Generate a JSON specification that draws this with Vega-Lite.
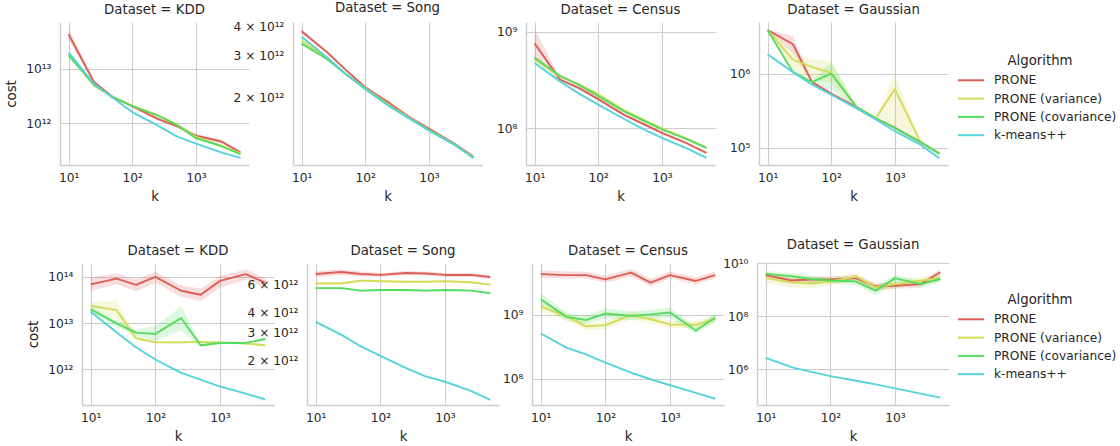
{
"$schema": "https://vega.github.io/schema/vega-lite/v6.json",
"background": "white",
"padding": {"left": 4, "top": 0, "right": 0, "bottom": 0},
"datasets": {"d": [
{"row":1,"Dataset":"KDD","Algorithm":"PRONE","k":10,"cost":4.3e13,"lo":3.4e13,"hi":5.5e13},
{"row":1,"Dataset":"KDD","Algorithm":"PRONE","k":25,"cost":5.7e12,"lo":5.3e12,"hi":6.1e12},
{"row":1,"Dataset":"KDD","Algorithm":"PRONE","k":50,"cost":3.0e12,"lo":2.9e12,"hi":3.1e12},
{"row":1,"Dataset":"KDD","Algorithm":"PRONE","k":100,"cost":2.05e12,"lo":1.97e12,"hi":2.13e12},
{"row":1,"Dataset":"KDD","Algorithm":"PRONE","k":250,"cost":1.2e12,"lo":1.13e12,"hi":1.27e12},
{"row":1,"Dataset":"KDD","Algorithm":"PRONE","k":500,"cost":8.8e11,"lo":8.3e11,"hi":9.3e11},
{"row":1,"Dataset":"KDD","Algorithm":"PRONE","k":1000,"cost":5.9e11,"lo":5.5e11,"hi":6.4e11},
{"row":1,"Dataset":"KDD","Algorithm":"PRONE","k":2500,"cost":4.6e11,"lo":4.2e11,"hi":5.0e11},
{"row":1,"Dataset":"KDD","Algorithm":"PRONE","k":5000,"cost":2.9e11,"lo":2.75e11,"hi":3.05e11},
{"row":1,"Dataset":"KDD","Algorithm":"PRONE (variance)","k":10,"cost":1.85e13,"lo":1.78e13,"hi":1.92e13},
{"row":1,"Dataset":"KDD","Algorithm":"PRONE (variance)","k":25,"cost":4.9e12,"lo":4.7e12,"hi":5.1e12},
{"row":1,"Dataset":"KDD","Algorithm":"PRONE (variance)","k":50,"cost":3.0e12,"lo":2.92e12,"hi":3.08e12},
{"row":1,"Dataset":"KDD","Algorithm":"PRONE (variance)","k":100,"cost":2.1e12,"lo":2.03e12,"hi":2.17e12},
{"row":1,"Dataset":"KDD","Algorithm":"PRONE (variance)","k":250,"cost":1.4e12,"lo":1.34e12,"hi":1.46e12},
{"row":1,"Dataset":"KDD","Algorithm":"PRONE (variance)","k":500,"cost":9.5e11,"lo":9.1e11,"hi":9.9e11},
{"row":1,"Dataset":"KDD","Algorithm":"PRONE (variance)","k":1000,"cost":5.6e11,"lo":5.35e11,"hi":5.85e11},
{"row":1,"Dataset":"KDD","Algorithm":"PRONE (variance)","k":2500,"cost":3.8e11,"lo":3.65e11,"hi":3.95e11},
{"row":1,"Dataset":"KDD","Algorithm":"PRONE (variance)","k":5000,"cost":2.8e11,"lo":2.72e11,"hi":2.88e11},
{"row":1,"Dataset":"KDD","Algorithm":"PRONE (covariance)","k":10,"cost":1.77e13,"lo":1.72e13,"hi":1.82e13},
{"row":1,"Dataset":"KDD","Algorithm":"PRONE (covariance)","k":25,"cost":5.1e12,"lo":4.95e12,"hi":5.25e12},
{"row":1,"Dataset":"KDD","Algorithm":"PRONE (covariance)","k":50,"cost":3.0e12,"lo":2.93e12,"hi":3.07e12},
{"row":1,"Dataset":"KDD","Algorithm":"PRONE (covariance)","k":100,"cost":2.05e12,"lo":2.0e12,"hi":2.1e12},
{"row":1,"Dataset":"KDD","Algorithm":"PRONE (covariance)","k":250,"cost":1.38e12,"lo":1.34e12,"hi":1.42e12},
{"row":1,"Dataset":"KDD","Algorithm":"PRONE (covariance)","k":500,"cost":9.3e11,"lo":9.0e11,"hi":9.6e11},
{"row":1,"Dataset":"KDD","Algorithm":"PRONE (covariance)","k":1000,"cost":5.3e11,"lo":5.15e11,"hi":5.45e11},
{"row":1,"Dataset":"KDD","Algorithm":"PRONE (covariance)","k":2500,"cost":3.8e11,"lo":3.7e11,"hi":3.9e11},
{"row":1,"Dataset":"KDD","Algorithm":"PRONE (covariance)","k":5000,"cost":2.7e11,"lo":2.64e11,"hi":2.76e11},
{"row":1,"Dataset":"KDD","Algorithm":"k-means++","k":10,"cost":2.0e13,"lo":1.97e13,"hi":2.03e13},
{"row":1,"Dataset":"KDD","Algorithm":"k-means++","k":25,"cost":5.3e12,"lo":5.25e12,"hi":5.35e12},
{"row":1,"Dataset":"KDD","Algorithm":"k-means++","k":50,"cost":2.9e12,"lo":2.87e12,"hi":2.93e12},
{"row":1,"Dataset":"KDD","Algorithm":"k-means++","k":100,"cost":1.6e12,"lo":1.58e12,"hi":1.62e12},
{"row":1,"Dataset":"KDD","Algorithm":"k-means++","k":250,"cost":9.1e11,"lo":9.0e11,"hi":9.2e11},
{"row":1,"Dataset":"KDD","Algorithm":"k-means++","k":500,"cost":5.7e11,"lo":5.64e11,"hi":5.76e11},
{"row":1,"Dataset":"KDD","Algorithm":"k-means++","k":1000,"cost":4.2e11,"lo":4.16e11,"hi":4.24e11},
{"row":1,"Dataset":"KDD","Algorithm":"k-means++","k":2500,"cost":2.9e11,"lo":2.87e11,"hi":2.93e11},
{"row":1,"Dataset":"KDD","Algorithm":"k-means++","k":5000,"cost":2.3e11,"lo":2.28e11,"hi":2.32e11},
{"row":1,"Dataset":"Song","Algorithm":"PRONE","k":10,"cost":3.8e12,"lo":3.72e12,"hi":3.88e12},
{"row":1,"Dataset":"Song","Algorithm":"PRONE","k":25,"cost":3.1e12,"lo":3.05e12,"hi":3.15e12},
{"row":1,"Dataset":"Song","Algorithm":"PRONE","k":50,"cost":2.6e12,"lo":2.57e12,"hi":2.63e12},
{"row":1,"Dataset":"Song","Algorithm":"PRONE","k":100,"cost":2.2e12,"lo":2.18e12,"hi":2.22e12},
{"row":1,"Dataset":"Song","Algorithm":"PRONE","k":250,"cost":1.87e12,"lo":1.85e12,"hi":1.89e12},
{"row":1,"Dataset":"Song","Algorithm":"PRONE","k":500,"cost":1.64e12,"lo":1.625e12,"hi":1.655e12},
{"row":1,"Dataset":"Song","Algorithm":"PRONE","k":1000,"cost":1.47e12,"lo":1.46e12,"hi":1.48e12},
{"row":1,"Dataset":"Song","Algorithm":"PRONE","k":2500,"cost":1.27e12,"lo":1.26e12,"hi":1.28e12},
{"row":1,"Dataset":"Song","Algorithm":"PRONE","k":5000,"cost":1.12e12,"lo":1.11e12,"hi":1.13e12},
{"row":1,"Dataset":"Song","Algorithm":"PRONE (variance)","k":10,"cost":3.47e12,"lo":3.42e12,"hi":3.52e12},
{"row":1,"Dataset":"Song","Algorithm":"PRONE (variance)","k":25,"cost":2.92e12,"lo":2.89e12,"hi":2.95e12},
{"row":1,"Dataset":"Song","Algorithm":"PRONE (variance)","k":50,"cost":2.5e12,"lo":2.48e12,"hi":2.52e12},
{"row":1,"Dataset":"Song","Algorithm":"PRONE (variance)","k":100,"cost":2.18e12,"lo":2.16e12,"hi":2.2e12},
{"row":1,"Dataset":"Song","Algorithm":"PRONE (variance)","k":250,"cost":1.83e12,"lo":1.82e12,"hi":1.84e12},
{"row":1,"Dataset":"Song","Algorithm":"PRONE (variance)","k":500,"cost":1.63e12,"lo":1.62e12,"hi":1.64e12},
{"row":1,"Dataset":"Song","Algorithm":"PRONE (variance)","k":1000,"cost":1.45e12,"lo":1.44e12,"hi":1.46e12},
{"row":1,"Dataset":"Song","Algorithm":"PRONE (variance)","k":2500,"cost":1.26e12,"lo":1.255e12,"hi":1.265e12},
{"row":1,"Dataset":"Song","Algorithm":"PRONE (variance)","k":5000,"cost":1.11e12,"lo":1.105e12,"hi":1.115e12},
{"row":1,"Dataset":"Song","Algorithm":"PRONE (covariance)","k":10,"cost":3.37e12,"lo":3.33e12,"hi":3.41e12},
{"row":1,"Dataset":"Song","Algorithm":"PRONE (covariance)","k":25,"cost":2.9e12,"lo":2.87e12,"hi":2.93e12},
{"row":1,"Dataset":"Song","Algorithm":"PRONE (covariance)","k":50,"cost":2.5e12,"lo":2.48e12,"hi":2.52e12},
{"row":1,"Dataset":"Song","Algorithm":"PRONE (covariance)","k":100,"cost":2.17e12,"lo":2.155e12,"hi":2.185e12},
{"row":1,"Dataset":"Song","Algorithm":"PRONE (covariance)","k":250,"cost":1.82e12,"lo":1.81e12,"hi":1.83e12},
{"row":1,"Dataset":"Song","Algorithm":"PRONE (covariance)","k":500,"cost":1.62e12,"lo":1.61e12,"hi":1.63e12},
{"row":1,"Dataset":"Song","Algorithm":"PRONE (covariance)","k":1000,"cost":1.45e12,"lo":1.44e12,"hi":1.46e12},
{"row":1,"Dataset":"Song","Algorithm":"PRONE (covariance)","k":2500,"cost":1.26e12,"lo":1.255e12,"hi":1.265e12},
{"row":1,"Dataset":"Song","Algorithm":"PRONE (covariance)","k":5000,"cost":1.105e12,"lo":1.1e12,"hi":1.11e12},
{"row":1,"Dataset":"Song","Algorithm":"k-means++","k":10,"cost":3.6e12,"lo":3.56e12,"hi":3.64e12},
{"row":1,"Dataset":"Song","Algorithm":"k-means++","k":25,"cost":2.95e12,"lo":2.93e12,"hi":2.97e12},
{"row":1,"Dataset":"Song","Algorithm":"k-means++","k":50,"cost":2.5e12,"lo":2.49e12,"hi":2.51e12},
{"row":1,"Dataset":"Song","Algorithm":"k-means++","k":100,"cost":2.16e12,"lo":2.15e12,"hi":2.17e12},
{"row":1,"Dataset":"Song","Algorithm":"k-means++","k":250,"cost":1.81e12,"lo":1.805e12,"hi":1.815e12},
{"row":1,"Dataset":"Song","Algorithm":"k-means++","k":500,"cost":1.62e12,"lo":1.615e12,"hi":1.625e12},
{"row":1,"Dataset":"Song","Algorithm":"k-means++","k":1000,"cost":1.44e12,"lo":1.435e12,"hi":1.445e12},
{"row":1,"Dataset":"Song","Algorithm":"k-means++","k":2500,"cost":1.26e12,"lo":1.255e12,"hi":1.265e12},
{"row":1,"Dataset":"Song","Algorithm":"k-means++","k":5000,"cost":1.1e12,"lo":1.097e12,"hi":1.103e12},
{"row":1,"Dataset":"Census","Algorithm":"PRONE","k":10,"cost":7.6e8,"lo":5.3e8,"hi":1.08e9},
{"row":1,"Dataset":"Census","Algorithm":"PRONE","k":25,"cost":3.2e8,"lo":3.05e8,"hi":3.35e8},
{"row":1,"Dataset":"Census","Algorithm":"PRONE","k":50,"cost":2.6e8,"lo":2.5e8,"hi":2.7e8},
{"row":1,"Dataset":"Census","Algorithm":"PRONE","k":100,"cost":2.0e8,"lo":1.93e8,"hi":2.07e8},
{"row":1,"Dataset":"Census","Algorithm":"PRONE","k":250,"cost":1.38e8,"lo":1.33e8,"hi":1.43e8},
{"row":1,"Dataset":"Census","Algorithm":"PRONE","k":500,"cost":1.11e8,"lo":1.07e8,"hi":1.15e8},
{"row":1,"Dataset":"Census","Algorithm":"PRONE","k":1000,"cost":8.9e7,"lo":8.6e7,"hi":9.2e7},
{"row":1,"Dataset":"Census","Algorithm":"PRONE","k":2500,"cost":6.9e7,"lo":6.7e7,"hi":7.1e7},
{"row":1,"Dataset":"Census","Algorithm":"PRONE","k":5000,"cost":5.5e7,"lo":5.35e7,"hi":5.65e7},
{"row":1,"Dataset":"Census","Algorithm":"PRONE (variance)","k":10,"cost":5.2e8,"lo":4.8e8,"hi":5.6e8},
{"row":1,"Dataset":"Census","Algorithm":"PRONE (variance)","k":25,"cost":3.45e8,"lo":3.35e8,"hi":3.55e8},
{"row":1,"Dataset":"Census","Algorithm":"PRONE (variance)","k":50,"cost":2.85e8,"lo":2.78e8,"hi":2.92e8},
{"row":1,"Dataset":"Census","Algorithm":"PRONE (variance)","k":100,"cost":2.25e8,"lo":2.19e8,"hi":2.31e8},
{"row":1,"Dataset":"Census","Algorithm":"PRONE (variance)","k":250,"cost":1.55e8,"lo":1.51e8,"hi":1.59e8},
{"row":1,"Dataset":"Census","Algorithm":"PRONE (variance)","k":500,"cost":1.23e8,"lo":1.2e8,"hi":1.26e8},
{"row":1,"Dataset":"Census","Algorithm":"PRONE (variance)","k":1000,"cost":9.9e7,"lo":9.7e7,"hi":1.01e8},
{"row":1,"Dataset":"Census","Algorithm":"PRONE (variance)","k":2500,"cost":7.7e7,"lo":7.55e7,"hi":7.85e7},
{"row":1,"Dataset":"Census","Algorithm":"PRONE (variance)","k":5000,"cost":6.3e7,"lo":6.2e7,"hi":6.4e7},
{"row":1,"Dataset":"Census","Algorithm":"PRONE (covariance)","k":10,"cost":5.4e8,"lo":5.1e8,"hi":5.7e8},
{"row":1,"Dataset":"Census","Algorithm":"PRONE (covariance)","k":25,"cost":3.5e8,"lo":3.42e8,"hi":3.58e8},
{"row":1,"Dataset":"Census","Algorithm":"PRONE (covariance)","k":50,"cost":2.8e8,"lo":2.74e8,"hi":2.86e8},
{"row":1,"Dataset":"Census","Algorithm":"PRONE (covariance)","k":100,"cost":2.15e8,"lo":2.11e8,"hi":2.19e8},
{"row":1,"Dataset":"Census","Algorithm":"PRONE (covariance)","k":250,"cost":1.5e8,"lo":1.47e8,"hi":1.53e8},
{"row":1,"Dataset":"Census","Algorithm":"PRONE (covariance)","k":500,"cost":1.2e8,"lo":1.18e8,"hi":1.22e8},
{"row":1,"Dataset":"Census","Algorithm":"PRONE (covariance)","k":1000,"cost":9.7e7,"lo":9.55e7,"hi":9.85e7},
{"row":1,"Dataset":"Census","Algorithm":"PRONE (covariance)","k":2500,"cost":7.6e7,"lo":7.5e7,"hi":7.7e7},
{"row":1,"Dataset":"Census","Algorithm":"PRONE (covariance)","k":5000,"cost":6.2e7,"lo":6.12e7,"hi":6.28e7},
{"row":1,"Dataset":"Census","Algorithm":"k-means++","k":10,"cost":4.75e8,"lo":4.7e8,"hi":4.8e8},
{"row":1,"Dataset":"Census","Algorithm":"k-means++","k":25,"cost":3.06e8,"lo":3.04e8,"hi":3.08e8},
{"row":1,"Dataset":"Census","Algorithm":"k-means++","k":50,"cost":2.28e8,"lo":2.27e8,"hi":2.29e8},
{"row":1,"Dataset":"Census","Algorithm":"k-means++","k":100,"cost":1.75e8,"lo":1.74e8,"hi":1.76e8},
{"row":1,"Dataset":"Census","Algorithm":"k-means++","k":250,"cost":1.25e8,"lo":1.245e8,"hi":1.255e8},
{"row":1,"Dataset":"Census","Algorithm":"k-means++","k":500,"cost":9.8e7,"lo":9.76e7,"hi":9.84e7},
{"row":1,"Dataset":"Census","Algorithm":"k-means++","k":1000,"cost":7.9e7,"lo":7.87e7,"hi":7.93e7},
{"row":1,"Dataset":"Census","Algorithm":"k-means++","k":2500,"cost":6.1e7,"lo":6.08e7,"hi":6.12e7},
{"row":1,"Dataset":"Census","Algorithm":"k-means++","k":5000,"cost":4.9e7,"lo":4.88e7,"hi":4.92e7},
{"row":1,"Dataset":"Gaussian","Algorithm":"PRONE","k":10,"cost":3.9e6,"lo":3.8e6,"hi":4.0e6},
{"row":1,"Dataset":"Gaussian","Algorithm":"PRONE","k":25,"cost":2.5e6,"lo":1.9e6,"hi":3.2e6},
{"row":1,"Dataset":"Gaussian","Algorithm":"PRONE","k":50,"cost":7.7e5,"lo":7.3e5,"hi":8.1e5},
{"row":1,"Dataset":"Gaussian","Algorithm":"PRONE","k":100,"cost":5.4e5,"lo":5.3e5,"hi":5.5e5},
{"row":1,"Dataset":"Gaussian","Algorithm":"PRONE","k":250,"cost":3.55e5,"lo":3.5e5,"hi":3.6e5},
{"row":1,"Dataset":"Gaussian","Algorithm":"PRONE","k":500,"cost":2.5e5,"lo":2.47e5,"hi":2.53e5},
{"row":1,"Dataset":"Gaussian","Algorithm":"PRONE","k":1000,"cost":1.85e5,"lo":1.83e5,"hi":1.87e5},
{"row":1,"Dataset":"Gaussian","Algorithm":"PRONE","k":2500,"cost":1.19e5,"lo":1.18e5,"hi":1.2e5},
{"row":1,"Dataset":"Gaussian","Algorithm":"PRONE","k":5000,"cost":8.3e4,"lo":8.2e4,"hi":8.4e4},
{"row":1,"Dataset":"Gaussian","Algorithm":"PRONE (variance)","k":10,"cost":3.9e6,"lo":3.8e6,"hi":4.0e6},
{"row":1,"Dataset":"Gaussian","Algorithm":"PRONE (variance)","k":25,"cost":1.55e6,"lo":1.05e6,"hi":2.0e6},
{"row":1,"Dataset":"Gaussian","Algorithm":"PRONE (variance)","k":50,"cost":1.23e6,"lo":8.5e5,"hi":1.55e6},
{"row":1,"Dataset":"Gaussian","Algorithm":"PRONE (variance)","k":100,"cost":1.03e6,"lo":7.5e5,"hi":1.5e6},
{"row":1,"Dataset":"Gaussian","Algorithm":"PRONE (variance)","k":250,"cost":3.55e5,"lo":3.5e5,"hi":3.6e5},
{"row":1,"Dataset":"Gaussian","Algorithm":"PRONE (variance)","k":500,"cost":2.5e5,"lo":2.47e5,"hi":2.53e5},
{"row":1,"Dataset":"Gaussian","Algorithm":"PRONE (variance)","k":1000,"cost":6.2e5,"lo":1.85e5,"hi":1.0e6},
{"row":1,"Dataset":"Gaussian","Algorithm":"PRONE (variance)","k":2500,"cost":1.2e5,"lo":1.19e5,"hi":1.21e5},
{"row":1,"Dataset":"Gaussian","Algorithm":"PRONE (variance)","k":5000,"cost":8.3e4,"lo":8.2e4,"hi":8.4e4},
{"row":1,"Dataset":"Gaussian","Algorithm":"PRONE (covariance)","k":10,"cost":3.9e6,"lo":3.8e6,"hi":4.0e6},
{"row":1,"Dataset":"Gaussian","Algorithm":"PRONE (covariance)","k":25,"cost":1.05e6,"lo":1.0e6,"hi":1.1e6},
{"row":1,"Dataset":"Gaussian","Algorithm":"PRONE (covariance)","k":50,"cost":7.7e5,"lo":7.4e5,"hi":8.0e5},
{"row":1,"Dataset":"Gaussian","Algorithm":"PRONE (covariance)","k":100,"cost":1.0e6,"lo":6.0e5,"hi":1.45e6},
{"row":1,"Dataset":"Gaussian","Algorithm":"PRONE (covariance)","k":250,"cost":3.55e5,"lo":3.5e5,"hi":3.6e5},
{"row":1,"Dataset":"Gaussian","Algorithm":"PRONE (covariance)","k":500,"cost":2.5e5,"lo":2.47e5,"hi":2.53e5},
{"row":1,"Dataset":"Gaussian","Algorithm":"PRONE (covariance)","k":1000,"cost":1.85e5,"lo":1.83e5,"hi":1.87e5},
{"row":1,"Dataset":"Gaussian","Algorithm":"PRONE (covariance)","k":2500,"cost":1.2e5,"lo":1.19e5,"hi":1.21e5},
{"row":1,"Dataset":"Gaussian","Algorithm":"PRONE (covariance)","k":5000,"cost":8.3e4,"lo":8.2e4,"hi":8.4e4},
{"row":1,"Dataset":"Gaussian","Algorithm":"k-means++","k":10,"cost":1.83e6,"lo":1.75e6,"hi":1.91e6},
{"row":1,"Dataset":"Gaussian","Algorithm":"k-means++","k":25,"cost":1.05e6,"lo":1.03e6,"hi":1.07e6},
{"row":1,"Dataset":"Gaussian","Algorithm":"k-means++","k":50,"cost":7.1e5,"lo":7.0e5,"hi":7.2e5},
{"row":1,"Dataset":"Gaussian","Algorithm":"k-means++","k":100,"cost":5.2e5,"lo":5.15e5,"hi":5.25e5},
{"row":1,"Dataset":"Gaussian","Algorithm":"k-means++","k":250,"cost":3.4e5,"lo":3.37e5,"hi":3.43e5},
{"row":1,"Dataset":"Gaussian","Algorithm":"k-means++","k":500,"cost":2.4e5,"lo":2.38e5,"hi":2.42e5},
{"row":1,"Dataset":"Gaussian","Algorithm":"k-means++","k":1000,"cost":1.67e5,"lo":1.66e5,"hi":1.68e5},
{"row":1,"Dataset":"Gaussian","Algorithm":"k-means++","k":2500,"cost":1.1e5,"lo":1.095e5,"hi":1.105e5},
{"row":1,"Dataset":"Gaussian","Algorithm":"k-means++","k":5000,"cost":7.2e4,"lo":7.15e4,"hi":7.25e4},
{"row":2,"Dataset":"KDD","Algorithm":"PRONE","k":10,"cost":6.9e13,"lo":4.9e13,"hi":9.8e13},
{"row":2,"Dataset":"KDD","Algorithm":"PRONE","k":25,"cost":9.2e13,"lo":7.0e13,"hi":1.2e14},
{"row":2,"Dataset":"KDD","Algorithm":"PRONE","k":50,"cost":6.7e13,"lo":4.8e13,"hi":8.8e13},
{"row":2,"Dataset":"KDD","Algorithm":"PRONE","k":100,"cost":1.0e14,"lo":7.5e13,"hi":1.3e14},
{"row":2,"Dataset":"KDD","Algorithm":"PRONE","k":250,"cost":5.0e13,"lo":3.7e13,"hi":6.6e13},
{"row":2,"Dataset":"KDD","Algorithm":"PRONE","k":500,"cost":4.1e13,"lo":3.0e13,"hi":5.5e13},
{"row":2,"Dataset":"KDD","Algorithm":"PRONE","k":1000,"cost":8.2e13,"lo":5.8e13,"hi":1.05e14},
{"row":2,"Dataset":"KDD","Algorithm":"PRONE","k":2500,"cost":1.15e14,"lo":8.8e13,"hi":1.45e14},
{"row":2,"Dataset":"KDD","Algorithm":"PRONE","k":5000,"cost":7.5e13,"lo":5.6e13,"hi":9.5e13},
{"row":2,"Dataset":"KDD","Algorithm":"PRONE (variance)","k":10,"cost":2.37e13,"lo":2.0e13,"hi":2.8e13},
{"row":2,"Dataset":"KDD","Algorithm":"PRONE (variance)","k":25,"cost":1.9e13,"lo":1.2e13,"hi":3.1e13},
{"row":2,"Dataset":"KDD","Algorithm":"PRONE (variance)","k":50,"cost":4.7e12,"lo":4.2e12,"hi":5.2e12},
{"row":2,"Dataset":"KDD","Algorithm":"PRONE (variance)","k":100,"cost":3.8e12,"lo":3.6e12,"hi":4.0e12},
{"row":2,"Dataset":"KDD","Algorithm":"PRONE (variance)","k":250,"cost":3.8e12,"lo":3.6e12,"hi":4.0e12},
{"row":2,"Dataset":"KDD","Algorithm":"PRONE (variance)","k":500,"cost":3.9e12,"lo":3.7e12,"hi":4.1e12},
{"row":2,"Dataset":"KDD","Algorithm":"PRONE (variance)","k":1000,"cost":3.8e12,"lo":3.6e12,"hi":4.0e12},
{"row":2,"Dataset":"KDD","Algorithm":"PRONE (variance)","k":2500,"cost":3.6e12,"lo":3.4e12,"hi":3.8e12},
{"row":2,"Dataset":"KDD","Algorithm":"PRONE (variance)","k":5000,"cost":3.3e12,"lo":3.1e12,"hi":3.5e12},
{"row":2,"Dataset":"KDD","Algorithm":"PRONE (covariance)","k":10,"cost":1.97e13,"lo":1.7e13,"hi":2.3e13},
{"row":2,"Dataset":"KDD","Algorithm":"PRONE (covariance)","k":25,"cost":9.8e12,"lo":8.3e12,"hi":1.15e13},
{"row":2,"Dataset":"KDD","Algorithm":"PRONE (covariance)","k":50,"cost":6.2e12,"lo":5.3e12,"hi":7.2e12},
{"row":2,"Dataset":"KDD","Algorithm":"PRONE (covariance)","k":100,"cost":5.8e12,"lo":4.0e12,"hi":8.5e12},
{"row":2,"Dataset":"KDD","Algorithm":"PRONE (covariance)","k":250,"cost":1.28e13,"lo":7.0e12,"hi":2.3e13},
{"row":2,"Dataset":"KDD","Algorithm":"PRONE (covariance)","k":500,"cost":3.3e12,"lo":3.0e12,"hi":3.6e12},
{"row":2,"Dataset":"KDD","Algorithm":"PRONE (covariance)","k":1000,"cost":3.7e12,"lo":3.5e12,"hi":3.9e12},
{"row":2,"Dataset":"KDD","Algorithm":"PRONE (covariance)","k":2500,"cost":3.7e12,"lo":3.5e12,"hi":3.9e12},
{"row":2,"Dataset":"KDD","Algorithm":"PRONE (covariance)","k":5000,"cost":4.5e12,"lo":4.2e12,"hi":4.8e12},
{"row":2,"Dataset":"KDD","Algorithm":"k-means++","k":10,"cost":1.76e13,"lo":1.73e13,"hi":1.79e13},
{"row":2,"Dataset":"KDD","Algorithm":"k-means++","k":25,"cost":6.3e12,"lo":6.2e12,"hi":6.4e12},
{"row":2,"Dataset":"KDD","Algorithm":"k-means++","k":50,"cost":3.0e12,"lo":2.96e12,"hi":3.04e12},
{"row":2,"Dataset":"KDD","Algorithm":"k-means++","k":100,"cost":1.62e12,"lo":1.6e12,"hi":1.64e12},
{"row":2,"Dataset":"KDD","Algorithm":"k-means++","k":250,"cost":8.3e11,"lo":8.2e11,"hi":8.4e11},
{"row":2,"Dataset":"KDD","Algorithm":"k-means++","k":500,"cost":5.9e11,"lo":5.84e11,"hi":5.96e11},
{"row":2,"Dataset":"KDD","Algorithm":"k-means++","k":1000,"cost":4.2e11,"lo":4.16e11,"hi":4.24e11},
{"row":2,"Dataset":"KDD","Algorithm":"k-means++","k":2500,"cost":2.95e11,"lo":2.92e11,"hi":2.98e11},
{"row":2,"Dataset":"KDD","Algorithm":"k-means++","k":5000,"cost":2.2e11,"lo":2.18e11,"hi":2.22e11},
{"row":2,"Dataset":"Song","Algorithm":"PRONE","k":10,"cost":7.0e12,"lo":6.7e12,"hi":7.3e12},
{"row":2,"Dataset":"Song","Algorithm":"PRONE","k":25,"cost":7.2e12,"lo":6.9e12,"hi":7.5e12},
{"row":2,"Dataset":"Song","Algorithm":"PRONE","k":50,"cost":7.0e12,"lo":6.75e12,"hi":7.25e12},
{"row":2,"Dataset":"Song","Algorithm":"PRONE","k":100,"cost":6.9e12,"lo":6.7e12,"hi":7.1e12},
{"row":2,"Dataset":"Song","Algorithm":"PRONE","k":250,"cost":7.1e12,"lo":6.9e12,"hi":7.3e12},
{"row":2,"Dataset":"Song","Algorithm":"PRONE","k":500,"cost":7.05e12,"lo":6.85e12,"hi":7.25e12},
{"row":2,"Dataset":"Song","Algorithm":"PRONE","k":1000,"cost":6.9e12,"lo":6.7e12,"hi":7.1e12},
{"row":2,"Dataset":"Song","Algorithm":"PRONE","k":2500,"cost":6.9e12,"lo":6.7e12,"hi":7.1e12},
{"row":2,"Dataset":"Song","Algorithm":"PRONE","k":5000,"cost":6.7e12,"lo":6.5e12,"hi":6.9e12},
{"row":2,"Dataset":"Song","Algorithm":"PRONE (variance)","k":10,"cost":6.1e12,"lo":6.0e12,"hi":6.2e12},
{"row":2,"Dataset":"Song","Algorithm":"PRONE (variance)","k":25,"cost":6.1e12,"lo":6.0e12,"hi":6.2e12},
{"row":2,"Dataset":"Song","Algorithm":"PRONE (variance)","k":50,"cost":6.35e12,"lo":6.25e12,"hi":6.45e12},
{"row":2,"Dataset":"Song","Algorithm":"PRONE (variance)","k":100,"cost":6.3e12,"lo":6.2e12,"hi":6.4e12},
{"row":2,"Dataset":"Song","Algorithm":"PRONE (variance)","k":250,"cost":6.25e12,"lo":6.15e12,"hi":6.35e12},
{"row":2,"Dataset":"Song","Algorithm":"PRONE (variance)","k":500,"cost":6.25e12,"lo":6.15e12,"hi":6.35e12},
{"row":2,"Dataset":"Song","Algorithm":"PRONE (variance)","k":1000,"cost":6.3e12,"lo":6.2e12,"hi":6.4e12},
{"row":2,"Dataset":"Song","Algorithm":"PRONE (variance)","k":2500,"cost":6.2e12,"lo":6.1e12,"hi":6.3e12},
{"row":2,"Dataset":"Song","Algorithm":"PRONE (variance)","k":5000,"cost":6.0e12,"lo":5.9e12,"hi":6.1e12},
{"row":2,"Dataset":"Song","Algorithm":"PRONE (covariance)","k":10,"cost":5.7e12,"lo":5.6e12,"hi":5.8e12},
{"row":2,"Dataset":"Song","Algorithm":"PRONE (covariance)","k":25,"cost":5.7e12,"lo":5.6e12,"hi":5.8e12},
{"row":2,"Dataset":"Song","Algorithm":"PRONE (covariance)","k":50,"cost":5.5e12,"lo":5.42e12,"hi":5.58e12},
{"row":2,"Dataset":"Song","Algorithm":"PRONE (covariance)","k":100,"cost":5.55e12,"lo":5.47e12,"hi":5.63e12},
{"row":2,"Dataset":"Song","Algorithm":"PRONE (covariance)","k":250,"cost":5.55e12,"lo":5.47e12,"hi":5.63e12},
{"row":2,"Dataset":"Song","Algorithm":"PRONE (covariance)","k":500,"cost":5.5e12,"lo":5.42e12,"hi":5.58e12},
{"row":2,"Dataset":"Song","Algorithm":"PRONE (covariance)","k":1000,"cost":5.55e12,"lo":5.47e12,"hi":5.63e12},
{"row":2,"Dataset":"Song","Algorithm":"PRONE (covariance)","k":2500,"cost":5.5e12,"lo":5.42e12,"hi":5.58e12},
{"row":2,"Dataset":"Song","Algorithm":"PRONE (covariance)","k":5000,"cost":5.3e12,"lo":5.22e12,"hi":5.38e12},
{"row":2,"Dataset":"Song","Algorithm":"k-means++","k":10,"cost":3.5e12,"lo":3.42e12,"hi":3.58e12},
{"row":2,"Dataset":"Song","Algorithm":"k-means++","k":25,"cost":2.9e12,"lo":2.86e12,"hi":2.94e12},
{"row":2,"Dataset":"Song","Algorithm":"k-means++","k":50,"cost":2.45e12,"lo":2.43e12,"hi":2.47e12},
{"row":2,"Dataset":"Song","Algorithm":"k-means++","k":100,"cost":2.14e12,"lo":2.13e12,"hi":2.15e12},
{"row":2,"Dataset":"Song","Algorithm":"k-means++","k":250,"cost":1.79e12,"lo":1.78e12,"hi":1.8e12},
{"row":2,"Dataset":"Song","Algorithm":"k-means++","k":500,"cost":1.59e12,"lo":1.58e12,"hi":1.6e12},
{"row":2,"Dataset":"Song","Algorithm":"k-means++","k":1000,"cost":1.47e12,"lo":1.46e12,"hi":1.48e12},
{"row":2,"Dataset":"Song","Algorithm":"k-means++","k":2500,"cost":1.29e12,"lo":1.28e12,"hi":1.3e12},
{"row":2,"Dataset":"Song","Algorithm":"k-means++","k":5000,"cost":1.13e12,"lo":1.12e12,"hi":1.14e12},
{"row":2,"Dataset":"Census","Algorithm":"PRONE","k":10,"cost":4.35e9,"lo":3.8e9,"hi":5.0e9},
{"row":2,"Dataset":"Census","Algorithm":"PRONE","k":25,"cost":4.2e9,"lo":3.7e9,"hi":4.8e9},
{"row":2,"Dataset":"Census","Algorithm":"PRONE","k":50,"cost":4.2e9,"lo":3.7e9,"hi":4.8e9},
{"row":2,"Dataset":"Census","Algorithm":"PRONE","k":100,"cost":3.6e9,"lo":3.2e9,"hi":4.1e9},
{"row":2,"Dataset":"Census","Algorithm":"PRONE","k":250,"cost":4.6e9,"lo":4.0e9,"hi":5.3e9},
{"row":2,"Dataset":"Census","Algorithm":"PRONE","k":500,"cost":3.2e9,"lo":2.8e9,"hi":3.7e9},
{"row":2,"Dataset":"Census","Algorithm":"PRONE","k":1000,"cost":4.2e9,"lo":3.7e9,"hi":4.8e9},
{"row":2,"Dataset":"Census","Algorithm":"PRONE","k":2500,"cost":3.4e9,"lo":3.0e9,"hi":3.9e9},
{"row":2,"Dataset":"Census","Algorithm":"PRONE","k":5000,"cost":4.2e9,"lo":3.7e9,"hi":4.8e9},
{"row":2,"Dataset":"Census","Algorithm":"PRONE (variance)","k":10,"cost":1.35e9,"lo":1.1e9,"hi":1.65e9},
{"row":2,"Dataset":"Census","Algorithm":"PRONE (variance)","k":25,"cost":9.6e8,"lo":8.3e8,"hi":1.1e9},
{"row":2,"Dataset":"Census","Algorithm":"PRONE (variance)","k":50,"cost":6.6e8,"lo":5.8e8,"hi":7.5e8},
{"row":2,"Dataset":"Census","Algorithm":"PRONE (variance)","k":100,"cost":6.9e8,"lo":6.0e8,"hi":7.9e8},
{"row":2,"Dataset":"Census","Algorithm":"PRONE (variance)","k":250,"cost":9.9e8,"lo":8.5e8,"hi":1.15e9},
{"row":2,"Dataset":"Census","Algorithm":"PRONE (variance)","k":500,"cost":8.55e8,"lo":7.4e8,"hi":9.8e8},
{"row":2,"Dataset":"Census","Algorithm":"PRONE (variance)","k":1000,"cost":7.1e8,"lo":6.2e8,"hi":8.1e8},
{"row":2,"Dataset":"Census","Algorithm":"PRONE (variance)","k":2500,"cost":7.0e8,"lo":6.1e8,"hi":8.0e8},
{"row":2,"Dataset":"Census","Algorithm":"PRONE (variance)","k":5000,"cost":8.55e8,"lo":7.3e8,"hi":1.0e9},
{"row":2,"Dataset":"Census","Algorithm":"PRONE (covariance)","k":10,"cost":1.76e9,"lo":1.4e9,"hi":2.2e9},
{"row":2,"Dataset":"Census","Algorithm":"PRONE (covariance)","k":25,"cost":9.3e8,"lo":8.0e8,"hi":1.08e9},
{"row":2,"Dataset":"Census","Algorithm":"PRONE (covariance)","k":50,"cost":8.3e8,"lo":7.2e8,"hi":9.6e8},
{"row":2,"Dataset":"Census","Algorithm":"PRONE (covariance)","k":100,"cost":1.05e9,"lo":8.7e8,"hi":1.28e9},
{"row":2,"Dataset":"Census","Algorithm":"PRONE (covariance)","k":250,"cost":9.6e8,"lo":8.3e8,"hi":1.12e9},
{"row":2,"Dataset":"Census","Algorithm":"PRONE (covariance)","k":500,"cost":1.02e9,"lo":8.6e8,"hi":1.2e9},
{"row":2,"Dataset":"Census","Algorithm":"PRONE (covariance)","k":1000,"cost":1.09e9,"lo":9.0e8,"hi":1.3e9},
{"row":2,"Dataset":"Census","Algorithm":"PRONE (covariance)","k":2500,"cost":5.7e8,"lo":5.0e8,"hi":6.5e8},
{"row":2,"Dataset":"Census","Algorithm":"PRONE (covariance)","k":5000,"cost":9.1e8,"lo":7.8e8,"hi":1.05e9},
{"row":2,"Dataset":"Census","Algorithm":"k-means++","k":10,"cost":5.1e8,"lo":5.0e8,"hi":5.2e8},
{"row":2,"Dataset":"Census","Algorithm":"k-means++","k":25,"cost":3.07e8,"lo":3.04e8,"hi":3.1e8},
{"row":2,"Dataset":"Census","Algorithm":"k-means++","k":50,"cost":2.4e8,"lo":2.38e8,"hi":2.42e8},
{"row":2,"Dataset":"Census","Algorithm":"k-means++","k":100,"cost":1.78e8,"lo":1.77e8,"hi":1.79e8},
{"row":2,"Dataset":"Census","Algorithm":"k-means++","k":250,"cost":1.24e8,"lo":1.235e8,"hi":1.245e8},
{"row":2,"Dataset":"Census","Algorithm":"k-means++","k":500,"cost":9.8e7,"lo":9.76e7,"hi":9.84e7},
{"row":2,"Dataset":"Census","Algorithm":"k-means++","k":1000,"cost":7.9e7,"lo":7.87e7,"hi":7.93e7},
{"row":2,"Dataset":"Census","Algorithm":"k-means++","k":2500,"cost":6.0e7,"lo":5.98e7,"hi":6.02e7},
{"row":2,"Dataset":"Census","Algorithm":"k-means++","k":5000,"cost":4.85e7,"lo":4.83e7,"hi":4.87e7},
{"row":2,"Dataset":"Gaussian","Algorithm":"PRONE","k":10,"cost":3.5e9,"lo":2.6e9,"hi":4.6e9},
{"row":2,"Dataset":"Gaussian","Algorithm":"PRONE","k":25,"cost":2.2e9,"lo":1.6e9,"hi":2.9e9},
{"row":2,"Dataset":"Gaussian","Algorithm":"PRONE","k":50,"cost":2.4e9,"lo":1.8e9,"hi":3.1e9},
{"row":2,"Dataset":"Gaussian","Algorithm":"PRONE","k":100,"cost":2.4e9,"lo":1.8e9,"hi":3.1e9},
{"row":2,"Dataset":"Gaussian","Algorithm":"PRONE","k":250,"cost":2.7e9,"lo":2.0e9,"hi":3.5e9},
{"row":2,"Dataset":"Gaussian","Algorithm":"PRONE","k":500,"cost":1.3e9,"lo":1.0e9,"hi":1.7e9},
{"row":2,"Dataset":"Gaussian","Algorithm":"PRONE","k":1000,"cost":1.4e9,"lo":1.05e9,"hi":1.85e9},
{"row":2,"Dataset":"Gaussian","Algorithm":"PRONE","k":2500,"cost":1.6e9,"lo":1.2e9,"hi":2.1e9},
{"row":2,"Dataset":"Gaussian","Algorithm":"PRONE","k":5000,"cost":4.5e9,"lo":3.4e9,"hi":5.9e9},
{"row":2,"Dataset":"Gaussian","Algorithm":"PRONE (variance)","k":10,"cost":2.7e9,"lo":1.8e9,"hi":3.8e9},
{"row":2,"Dataset":"Gaussian","Algorithm":"PRONE (variance)","k":25,"cost":1.9e9,"lo":1.2e9,"hi":2.8e9},
{"row":2,"Dataset":"Gaussian","Algorithm":"PRONE (variance)","k":50,"cost":1.7e9,"lo":1.1e9,"hi":2.6e9},
{"row":2,"Dataset":"Gaussian","Algorithm":"PRONE (variance)","k":100,"cost":2.0e9,"lo":1.4e9,"hi":2.8e9},
{"row":2,"Dataset":"Gaussian","Algorithm":"PRONE (variance)","k":250,"cost":3.1e9,"lo":2.2e9,"hi":4.2e9},
{"row":2,"Dataset":"Gaussian","Algorithm":"PRONE (variance)","k":500,"cost":1.2e9,"lo":8.5e8,"hi":1.65e9},
{"row":2,"Dataset":"Gaussian","Algorithm":"PRONE (variance)","k":1000,"cost":1.6e9,"lo":1.15e9,"hi":2.2e9},
{"row":2,"Dataset":"Gaussian","Algorithm":"PRONE (variance)","k":2500,"cost":2.2e9,"lo":1.6e9,"hi":3.0e9},
{"row":2,"Dataset":"Gaussian","Algorithm":"PRONE (variance)","k":5000,"cost":2.7e9,"lo":2.0e9,"hi":3.6e9},
{"row":2,"Dataset":"Gaussian","Algorithm":"PRONE (covariance)","k":10,"cost":3.9e9,"lo":3.0e9,"hi":5.0e9},
{"row":2,"Dataset":"Gaussian","Algorithm":"PRONE (covariance)","k":25,"cost":3.2e9,"lo":2.4e9,"hi":4.2e9},
{"row":2,"Dataset":"Gaussian","Algorithm":"PRONE (covariance)","k":50,"cost":2.5e9,"lo":1.9e9,"hi":3.3e9},
{"row":2,"Dataset":"Gaussian","Algorithm":"PRONE (covariance)","k":100,"cost":2.2e9,"lo":1.7e9,"hi":2.9e9},
{"row":2,"Dataset":"Gaussian","Algorithm":"PRONE (covariance)","k":250,"cost":2.0e9,"lo":1.5e9,"hi":2.7e9},
{"row":2,"Dataset":"Gaussian","Algorithm":"PRONE (covariance)","k":500,"cost":9.1e8,"lo":6.0e8,"hi":1.4e9},
{"row":2,"Dataset":"Gaussian","Algorithm":"PRONE (covariance)","k":1000,"cost":2.7e9,"lo":1.9e9,"hi":3.6e9},
{"row":2,"Dataset":"Gaussian","Algorithm":"PRONE (covariance)","k":2500,"cost":1.6e9,"lo":1.2e9,"hi":2.2e9},
{"row":2,"Dataset":"Gaussian","Algorithm":"PRONE (covariance)","k":5000,"cost":2.5e9,"lo":1.9e9,"hi":3.3e9},
{"row":2,"Dataset":"Gaussian","Algorithm":"k-means++","k":10,"cost":2.7e6,"lo":2.5e6,"hi":2.9e6},
{"row":2,"Dataset":"Gaussian","Algorithm":"k-means++","k":25,"cost":1.2e6,"lo":1.17e6,"hi":1.23e6},
{"row":2,"Dataset":"Gaussian","Algorithm":"k-means++","k":50,"cost":8.0e5,"lo":7.85e5,"hi":8.15e5},
{"row":2,"Dataset":"Gaussian","Algorithm":"k-means++","k":100,"cost":5.5e5,"lo":5.42e5,"hi":5.58e5},
{"row":2,"Dataset":"Gaussian","Algorithm":"k-means++","k":250,"cost":3.7e5,"lo":3.66e5,"hi":3.74e5},
{"row":2,"Dataset":"Gaussian","Algorithm":"k-means++","k":500,"cost":2.7e5,"lo":2.67e5,"hi":2.73e5},
{"row":2,"Dataset":"Gaussian","Algorithm":"k-means++","k":1000,"cost":1.9e5,"lo":1.88e5,"hi":1.92e5},
{"row":2,"Dataset":"Gaussian","Algorithm":"k-means++","k":2500,"cost":1.2e5,"lo":1.19e5,"hi":1.21e5},
{"row":2,"Dataset":"Gaussian","Algorithm":"k-means++","k":5000,"cost":8.5e4,"lo":8.43e4,"hi":8.57e4}
]},
"columns": 1,
"spacing": 34,
"resolve": {"scale": {"color": "independent", "fill": "independent"}, "legend": {"color": "independent"}},
"concat": [
{"spacing": 44, "bounds": "flush", "hconcat": [
 {"width": 1, "height": 143, "data": {"values": []}, "mark": "point", "encoding": {}},
 {"width": 189, "height": 143, "title": "Dataset = KDD", "data": {"name": "d"},
  "transform": [{"filter": "datum.row == 1 && datum.Dataset == 'KDD'"}],
  "encoding": {"x": {"field": "k", "type": "quantitative", "scale": {"type": "log", "domain": [7.33, 6823], "nice": false}, "axis": {"title": "k", "values": [10, 100, 1000], "labelExpr": "datum.value < 50 ? '10¹' : datum.value < 500 ? '10²' : '10³'"}}},
  "layer": [
   {"mark": {"type": "area", "opacity": 0.2, "clip": true}, "encoding": {"y": {"field": "lo", "type": "quantitative", "scale": {"type": "log", "domain": [1.7e11, 7.24e13], "nice": false}, "axis": {"title": "cost", "values": [1e12, 1e13], "labelExpr": "datum.value < 5e12 ? '10¹²' : '10¹³'", "minExtent": 34, "maxExtent": 34}}, "y2": {"field": "hi"}, "fill": {"field": "Algorithm", "type": "nominal", "scale": {"domain": ["k-means++", "PRONE (covariance)", "PRONE (variance)", "PRONE"], "range": ["#57d3db", "#57db5f", "#d3db57", "#db5f57"]}, "legend": null}}},
   {"mark": {"type": "line", "strokeWidth": 1.9, "strokeJoin": "round", "clip": true}, "encoding": {"y": {"field": "cost", "type": "quantitative", "scale": {"type": "log", "domain": [1.7e11, 7.24e13], "nice": false}, "axis": {"title": "cost", "values": [1e12, 1e13], "labelExpr": "datum.value < 5e12 ? '10¹²' : '10¹³'", "minExtent": 34, "maxExtent": 34}}, "color": {"field": "Algorithm", "type": "nominal", "scale": {"domain": ["PRONE", "PRONE (variance)", "PRONE (covariance)", "k-means++"], "range": ["#db5f57", "#d3db57", "#57db5f", "#57d3db"]}, "legend": {"title": "Algorithm", "orient": "none", "legendX": 949, "legendY": 32}}}}
  ]},
 {"width": 189, "height": 143, "title": "Dataset = Song", "data": {"name": "d"},
  "transform": [{"filter": "datum.row == 1 && datum.Dataset == 'Song'"}],
  "encoding": {"x": {"field": "k", "type": "quantitative", "scale": {"type": "log", "domain": [7.33, 6823], "nice": false}, "axis": {"title": "k", "values": [10, 100, 1000], "labelExpr": "datum.value < 50 ? '10¹' : datum.value < 500 ? '10²' : '10³'"}}},
  "layer": [
   {"mark": {"type": "area", "opacity": 0.2, "clip": true}, "encoding": {"y": {"field": "lo", "type": "quantitative", "scale": {"type": "log", "domain": [1.03e12, 4.16e12], "nice": false}, "axis": {"title": null, "grid": false, "values": [2e12, 3e12, 4e12], "labelExpr": "round(datum.value / 1e12) + ' × 10¹²'"}}, "y2": {"field": "hi"}, "fill": {"field": "Algorithm", "type": "nominal", "scale": {"domain": ["k-means++", "PRONE (covariance)", "PRONE (variance)", "PRONE"], "range": ["#57d3db", "#57db5f", "#d3db57", "#db5f57"]}, "legend": null}}},
   {"mark": {"type": "line", "strokeWidth": 1.9, "strokeJoin": "round", "clip": true}, "encoding": {"y": {"field": "cost", "type": "quantitative", "scale": {"type": "log", "domain": [1.03e12, 4.16e12], "nice": false}, "axis": {"title": null, "grid": false, "values": [2e12, 3e12, 4e12], "labelExpr": "round(datum.value / 1e12) + ' × 10¹²'"}}, "color": {"field": "Algorithm", "type": "nominal", "scale": {"domain": ["PRONE", "PRONE (variance)", "PRONE (covariance)", "k-means++"], "range": ["#db5f57", "#d3db57", "#57db5f", "#57d3db"]}, "legend": {"title": "Algorithm", "orient": "none", "legendX": 949, "legendY": 32}}}}
  ]},
 {"width": 189, "height": 143, "title": "Dataset = Census", "data": {"name": "d"},
  "transform": [{"filter": "datum.row == 1 && datum.Dataset == 'Census'"}],
  "encoding": {"x": {"field": "k", "type": "quantitative", "scale": {"type": "log", "domain": [7.33, 6823], "nice": false}, "axis": {"title": "k", "values": [10, 100, 1000], "labelExpr": "datum.value < 50 ? '10¹' : datum.value < 500 ? '10²' : '10³'"}}},
  "layer": [
   {"mark": {"type": "area", "opacity": 0.2, "clip": true}, "encoding": {"y": {"field": "lo", "type": "quantitative", "scale": {"type": "log", "domain": [4.12e7, 1.27e9], "nice": false}, "axis": {"title": null, "values": [1e8, 1e9], "labelExpr": "datum.value < 5e8 ? '10⁸' : '10⁹'"}}, "y2": {"field": "hi"}, "fill": {"field": "Algorithm", "type": "nominal", "scale": {"domain": ["k-means++", "PRONE (covariance)", "PRONE (variance)", "PRONE"], "range": ["#57d3db", "#57db5f", "#d3db57", "#db5f57"]}, "legend": null}}},
   {"mark": {"type": "line", "strokeWidth": 1.9, "strokeJoin": "round", "clip": true}, "encoding": {"y": {"field": "cost", "type": "quantitative", "scale": {"type": "log", "domain": [4.12e7, 1.27e9], "nice": false}, "axis": {"title": null, "values": [1e8, 1e9], "labelExpr": "datum.value < 5e8 ? '10⁸' : '10⁹'"}}, "color": {"field": "Algorithm", "type": "nominal", "scale": {"domain": ["PRONE", "PRONE (variance)", "PRONE (covariance)", "k-means++"], "range": ["#db5f57", "#d3db57", "#57db5f", "#57d3db"]}, "legend": {"title": "Algorithm", "orient": "none", "legendX": 949, "legendY": 32}}}}
  ]},
 {"width": 189, "height": 143, "title": "Dataset = Gaussian", "data": {"name": "d"},
  "transform": [{"filter": "datum.row == 1 && datum.Dataset == 'Gaussian'"}],
  "encoding": {"x": {"field": "k", "type": "quantitative", "scale": {"type": "log", "domain": [7.33, 6823], "nice": false}, "axis": {"title": "k", "values": [10, 100, 1000], "labelExpr": "datum.value < 50 ? '10¹' : datum.value < 500 ? '10²' : '10³'"}}},
  "layer": [
   {"mark": {"type": "area", "opacity": 0.2, "clip": true}, "encoding": {"y": {"field": "lo", "type": "quantitative", "scale": {"type": "log", "domain": [5.83e4, 5.0e6], "nice": false}, "axis": {"title": null, "values": [1e5, 1e6], "labelExpr": "datum.value < 5e5 ? '10⁵' : '10⁶'"}}, "y2": {"field": "hi"}, "fill": {"field": "Algorithm", "type": "nominal", "scale": {"domain": ["k-means++", "PRONE (covariance)", "PRONE (variance)", "PRONE"], "range": ["#57d3db", "#57db5f", "#d3db57", "#db5f57"]}, "legend": null}}},
   {"mark": {"type": "line", "strokeWidth": 1.9, "strokeJoin": "round", "clip": true}, "encoding": {"y": {"field": "cost", "type": "quantitative", "scale": {"type": "log", "domain": [5.83e4, 5.0e6], "nice": false}, "axis": {"title": null, "values": [1e5, 1e6], "labelExpr": "datum.value < 5e5 ? '10⁵' : '10⁶'"}}, "color": {"field": "Algorithm", "type": "nominal", "scale": {"domain": ["PRONE", "PRONE (variance)", "PRONE (covariance)", "k-means++"], "range": ["#db5f57", "#d3db57", "#57db5f", "#57d3db"]}, "legend": {"title": "Algorithm", "orient": "none", "legendX": 949, "legendY": 32}}}}
  ]}
]},
{"spacing": 33, "bounds": "flush", "hconcat": [
 {"width": 34, "height": 142, "data": {"values": []}, "mark": "point", "encoding": {}},
 {"width": 192, "height": 142, "title": "Dataset = KDD", "data": {"name": "d"},
  "transform": [{"filter": "datum.row == 2 && datum.Dataset == 'KDD'"}],
  "encoding": {"x": {"field": "k", "type": "quantitative", "scale": {"type": "log", "domain": [7.33, 6823], "nice": false}, "axis": {"title": "k", "values": [10, 100, 1000], "labelExpr": "datum.value < 50 ? '10¹' : datum.value < 500 ? '10²' : '10³'"}}},
  "layer": [
   {"mark": {"type": "area", "opacity": 0.2, "clip": true}, "encoding": {"y": {"field": "lo", "type": "quantitative", "scale": {"type": "log", "domain": [1.67e11, 2.0e14], "nice": false}, "axis": {"title": "cost", "values": [1e12, 1e13, 1e14], "labelExpr": "datum.value < 5e12 ? '10¹²' : datum.value < 5e13 ? '10¹³' : '10¹⁴'", "minExtent": 34, "maxExtent": 34}}, "y2": {"field": "hi"}, "fill": {"field": "Algorithm", "type": "nominal", "scale": {"domain": ["k-means++", "PRONE (covariance)", "PRONE (variance)", "PRONE"], "range": ["#57d3db", "#57db5f", "#d3db57", "#db5f57"]}, "legend": null}}},
   {"mark": {"type": "line", "strokeWidth": 1.9, "strokeJoin": "round", "clip": true}, "encoding": {"y": {"field": "cost", "type": "quantitative", "scale": {"type": "log", "domain": [1.67e11, 2.0e14], "nice": false}, "axis": {"title": "cost", "values": [1e12, 1e13, 1e14], "labelExpr": "datum.value < 5e12 ? '10¹²' : datum.value < 5e13 ? '10¹³' : '10¹⁴'", "minExtent": 34, "maxExtent": 34}}, "color": {"field": "Algorithm", "type": "nominal", "scale": {"domain": ["PRONE", "PRONE (variance)", "PRONE (covariance)", "k-means++"], "range": ["#db5f57", "#d3db57", "#57db5f", "#57d3db"]}, "legend": {"title": "Algorithm", "orient": "none", "legendX": 949, "legendY": 30}}}}
  ]},
 {"width": 192, "height": 142, "title": "Dataset = Song", "data": {"name": "d"},
  "transform": [{"filter": "datum.row == 2 && datum.Dataset == 'Song'"}],
  "encoding": {"x": {"field": "k", "type": "quantitative", "scale": {"type": "log", "domain": [7.33, 6823], "nice": false}, "axis": {"title": "k", "values": [10, 100, 1000], "labelExpr": "datum.value < 50 ? '10¹' : datum.value < 500 ? '10²' : '10³'"}}},
  "layer": [
   {"mark": {"type": "area", "opacity": 0.2, "clip": true}, "encoding": {"y": {"field": "lo", "type": "quantitative", "scale": {"type": "log", "domain": [1.05e12, 8.2e12], "nice": false}, "axis": {"title": null, "grid": false, "values": [2e12, 3e12, 4e12, 6e12], "labelExpr": "round(datum.value / 1e12) + ' × 10¹²'"}}, "y2": {"field": "hi"}, "fill": {"field": "Algorithm", "type": "nominal", "scale": {"domain": ["k-means++", "PRONE (covariance)", "PRONE (variance)", "PRONE"], "range": ["#57d3db", "#57db5f", "#d3db57", "#db5f57"]}, "legend": null}}},
   {"mark": {"type": "line", "strokeWidth": 1.9, "strokeJoin": "round", "clip": true}, "encoding": {"y": {"field": "cost", "type": "quantitative", "scale": {"type": "log", "domain": [1.05e12, 8.2e12], "nice": false}, "axis": {"title": null, "grid": false, "values": [2e12, 3e12, 4e12, 6e12], "labelExpr": "round(datum.value / 1e12) + ' × 10¹²'"}}, "color": {"field": "Algorithm", "type": "nominal", "scale": {"domain": ["PRONE", "PRONE (variance)", "PRONE (covariance)", "k-means++"], "range": ["#db5f57", "#d3db57", "#57db5f", "#57d3db"]}, "legend": {"title": "Algorithm", "orient": "none", "legendX": 949, "legendY": 30}}}}
  ]},
 {"width": 192, "height": 142, "title": "Dataset = Census", "data": {"name": "d"},
  "transform": [{"filter": "datum.row == 2 && datum.Dataset == 'Census'"}],
  "encoding": {"x": {"field": "k", "type": "quantitative", "scale": {"type": "log", "domain": [7.33, 6823], "nice": false}, "axis": {"title": "k", "values": [10, 100, 1000], "labelExpr": "datum.value < 50 ? '10¹' : datum.value < 500 ? '10²' : '10³'"}}},
  "layer": [
   {"mark": {"type": "area", "opacity": 0.2, "clip": true}, "encoding": {"y": {"field": "lo", "type": "quantitative", "scale": {"type": "log", "domain": [3.87e7, 6.5e9], "nice": false}, "axis": {"title": null, "values": [1e8, 1e9], "labelExpr": "datum.value < 5e8 ? '10⁸' : '10⁹'"}}, "y2": {"field": "hi"}, "fill": {"field": "Algorithm", "type": "nominal", "scale": {"domain": ["k-means++", "PRONE (covariance)", "PRONE (variance)", "PRONE"], "range": ["#57d3db", "#57db5f", "#d3db57", "#db5f57"]}, "legend": null}}},
   {"mark": {"type": "line", "strokeWidth": 1.9, "strokeJoin": "round", "clip": true}, "encoding": {"y": {"field": "cost", "type": "quantitative", "scale": {"type": "log", "domain": [3.87e7, 6.5e9], "nice": false}, "axis": {"title": null, "values": [1e8, 1e9], "labelExpr": "datum.value < 5e8 ? '10⁸' : '10⁹'"}}, "color": {"field": "Algorithm", "type": "nominal", "scale": {"domain": ["PRONE", "PRONE (variance)", "PRONE (covariance)", "k-means++"], "range": ["#db5f57", "#d3db57", "#57db5f", "#57d3db"]}, "legend": {"title": "Algorithm", "orient": "none", "legendX": 949, "legendY": 30}}}}
  ]},
 {"width": 192, "height": 142, "title": "Dataset = Gaussian", "data": {"name": "d"},
  "transform": [{"filter": "datum.row == 2 && datum.Dataset == 'Gaussian'"}],
  "encoding": {"x": {"field": "k", "type": "quantitative", "scale": {"type": "log", "domain": [7.33, 6823], "nice": false}, "axis": {"title": "k", "values": [10, 100, 1000], "labelExpr": "datum.value < 50 ? '10¹' : datum.value < 500 ? '10²' : '10³'"}}},
  "layer": [
   {"mark": {"type": "area", "opacity": 0.2, "clip": true}, "encoding": {"y": {"field": "lo", "type": "quantitative", "scale": {"type": "log", "domain": [4.5e4, 1.0e10], "nice": false}, "axis": {"title": null, "values": [1e6, 1e8, 1e10], "labelExpr": "datum.value < 5e6 ? '10⁶' : datum.value < 5e8 ? '10⁸' : '10¹⁰'"}}, "y2": {"field": "hi"}, "fill": {"field": "Algorithm", "type": "nominal", "scale": {"domain": ["k-means++", "PRONE (covariance)", "PRONE (variance)", "PRONE"], "range": ["#57d3db", "#57db5f", "#d3db57", "#db5f57"]}, "legend": null}}},
   {"mark": {"type": "line", "strokeWidth": 1.9, "strokeJoin": "round", "clip": true}, "encoding": {"y": {"field": "cost", "type": "quantitative", "scale": {"type": "log", "domain": [4.5e4, 1.0e10], "nice": false}, "axis": {"title": null, "values": [1e6, 1e8, 1e10], "labelExpr": "datum.value < 5e6 ? '10⁶' : datum.value < 5e8 ? '10⁸' : '10¹⁰'"}}, "color": {"field": "Algorithm", "type": "nominal", "scale": {"domain": ["PRONE", "PRONE (variance)", "PRONE (covariance)", "k-means++"], "range": ["#db5f57", "#d3db57", "#57db5f", "#57d3db"]}, "legend": {"title": "Algorithm", "orient": "none", "legendX": 949, "legendY": 30}}}}
  ]}
]}
],
"config": {
 "font": "DejaVu Sans",
 "view": {"stroke": null},
 "axis": {"domainColor": "#cccccc", "domainWidth": 1.4, "gridColor": "#cccccc", "gridWidth": 1.1, "ticks": false, "tickSize": 0, "labelFont": "DejaVu Sans", "labelFontSize": 12.2, "labelColor": "#262626", "labelPadding": 9, "titleFont": "DejaVu Sans", "titleFontSize": 13.3, "titleFontWeight": "normal", "titleColor": "#262626"},
 "axisX": {"titlePadding": 6, "labelPadding": 6, "labelFlush": false},
 "axisY": {"titlePadding": 8},
 "title": {"font": "DejaVu Sans", "fontSize": 13.3, "fontWeight": "normal", "color": "#262626", "offset": 6, "anchor": "middle", "frame": "group"},
 "legend": {"padding": 0, "titleFont": "DejaVu Sans", "titleFontSize": 13.3, "titleFontWeight": "normal", "titleColor": "#262626", "labelFont": "DejaVu Sans", "labelFontSize": 12.2, "labelColor": "#262626", "symbolType": "M-2.17,0H2.17", "symbolSize": 144, "symbolStrokeWidth": 2, "rowPadding": 4.3, "titleAnchor": "middle", "labelOffset": 16, "titlePadding": 6}
}
}
